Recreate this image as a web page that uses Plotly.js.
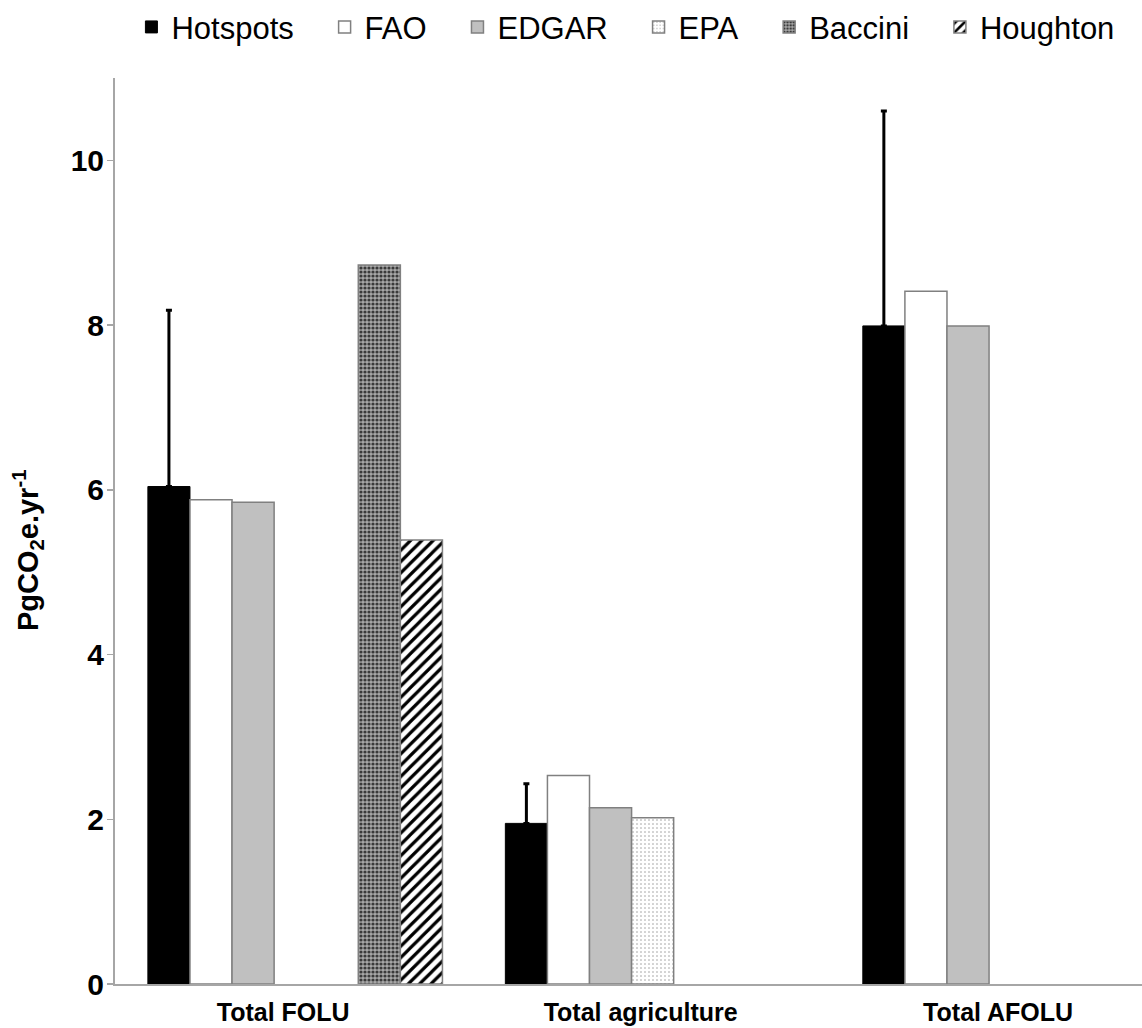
<!DOCTYPE html>
<html>
<head>
<meta charset="utf-8">
<script src="https://cdn.plot.ly/plotly-3.0.1.min.js"></script>
<style>html,body{margin:0;padding:0;background:#fff;overflow:hidden}#chart{width:1142px;height:1028px}</style>
</head>
<body>
<div id="chart"></div>
<script>
const categories = ['Total FOLU', 'Total agriculture', 'Total AFOLU'];
const seriesNames = ['Hotspots', 'FAO', 'EDGAR', 'EPA', 'Baccini', 'Houghton'];
const hotspots = [6.04, 1.95, 7.99];
const hotspotsErrUp = [2.14, 0.48, 2.61];
const fao = [5.88, 2.53, 8.41];
const edgar = [5.85, 2.14, 7.99];
const epa = [null, 2.02, null];
const spacer = [null, null, null];
const baccini = [8.73, null, null];
const houghton = [5.39, null, null];
const yTitle = 'PgCO<sub>2</sub>e.yr<sup>-1</sup>';

const pad = '\u00a0\u00a0\u00a0';
const outline = {color: '#808080', width: 1.5};
const traces = [
  {name: seriesNames[0] + pad, y: hotspots, marker: {color: '#000000', line: {color: '#000000', width: 1}},
   error_y: {type: 'data', symmetric: false, array: hotspotsErrUp, arrayminus: [0, 0, 0], color: '#000000', thickness: 3, width: 3}},
  {name: seriesNames[1] + pad, y: fao, marker: {color: '#ffffff', line: outline}},
  {name: seriesNames[2] + pad, y: edgar, marker: {color: '#c0c0c0', line: outline}},
  {name: seriesNames[3] + pad, y: epa, marker: {color: '#ffffff', line: outline,
    pattern: {shape: '.', fgcolor: '#9a9a9a', bgcolor: '#ffffff', size: 4, solidity: 0.12}}},
  {name: 'spacer', y: spacer, showlegend: false, hoverinfo: 'skip', marker: {color: '#ffffff'}},
  {name: seriesNames[4] + pad, y: baccini, marker: {color: '#909090', line: outline,
    pattern: {shape: '.', fgcolor: '#3a3a3a', bgcolor: '#a8a8a8', size: 4, solidity: 0.5}}},
  {name: seriesNames[5], y: houghton, marker: {color: '#ffffff', line: outline,
    pattern: {shape: '/', fgcolor: '#000000', bgcolor: '#ffffff', size: 8, solidity: 0.4}}}
].map(t => Object.assign({type: 'bar', x: categories}, t));

const layout = {
  width: 1142, height: 1028,
  margin: {l: 115, r: 0, t: 78, b: 44},
  paper_bgcolor: '#ffffff', plot_bgcolor: '#ffffff',
  font: {family: 'Liberation Sans, Arial, sans-serif', color: '#000000'},
  barmode: 'group', bargap: 0.176, bargroupgap: 0,
  showlegend: true,
  legend: {orientation: 'h', x: 0.497, xanchor: 'center', y: 1.056, yanchor: 'middle',
    font: {size: 31}, itemclick: false, traceorder: 'normal'},
  xaxis: {type: 'category', range: [-0.504, 2.369], showline: true, linecolor: '#a6a6a6', linewidth: 2,
    ticks: '', showgrid: false, zeroline: false, ticklabelshift: -12, ticklabelstandoff: 5,
    tickfont: {size: 25, weight: 'bold'}},
  yaxis: {range: [0, 11], tickvals: [0, 2, 4, 6, 8, 10], showline: true, linecolor: '#a6a6a6', linewidth: 2,
    ticks: 'outside', ticklen: 6, tickcolor: '#a6a6a6', tickwidth: 1.5, showgrid: false, zeroline: false,
    ticklabelstandoff: -3,
    tickfont: {size: 30, weight: 'bold'}},
  annotations: [{text: yTitle, xref: 'paper', yref: 'paper', x: -0.0847, y: 0.479,
    xanchor: 'center', yanchor: 'middle', textangle: -90, showarrow: false,
    font: {size: 29, weight: 'bold'}}]
};

Plotly.newPlot('chart', traces, layout, {displayModeBar: false, staticPlot: true});
</script>
</body>
</html>
